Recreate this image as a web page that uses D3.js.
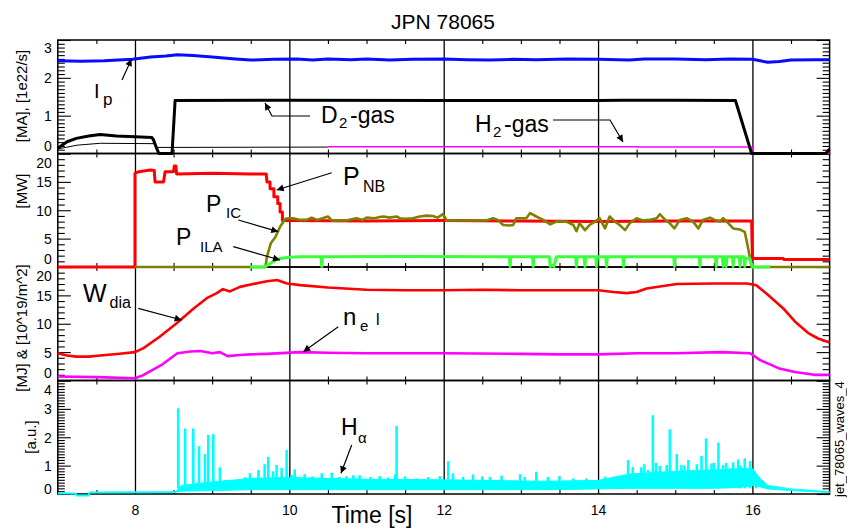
<!DOCTYPE html>
<html><head><meta charset="utf-8">
<script src="https://cdn.jsdelivr.net/npm/d3@7"></script>
<style>body{margin:0;background:#fff}svg{display:block;font-family:"Liberation Sans",Arial,Helvetica,sans-serif}</style>
</head><body><svg id="c" width="847" height="529"></svg>
<script>
// ---------- data ----------
const title = "JPN 78065";
const xTickVals = [8, 10, 12, 14, 16];
const xTickLabels = ["8", "10", "12", "14", "16"];
const ticksP1 = [0, 1, 2, 3];
const ticksP2 = [0, 5, 10, 15, 20];
const ticksP3 = [0, 5, 10, 15, 20];
const ticksP4 = [0, 1, 2, 3, 4];

// panel 1: plasma current [MA] and gas [1e22/s]
const ip = [[7.0,2.45],[7.3,2.44],[7.6,2.45],[7.97,2.49],[8.2,2.55],[8.4,2.58],[8.55,2.61],[8.75,2.59],[9.0,2.55],[9.3,2.5],[9.5,2.47],[9.8,2.49],[10.1,2.5],[10.3,2.47],[10.5,2.5],[10.8,2.48],[11.0,2.5],[11.3,2.47],[11.6,2.49],[12.0,2.5],[12.3,2.48],[12.6,2.47],[12.9,2.49],[13.2,2.48],[13.6,2.5],[14.0,2.49],[14.4,2.47],[14.6,2.5],[15.0,2.5],[15.4,2.48],[15.7,2.5],[16.0,2.49],[16.1,2.45],[16.2,2.41],[16.35,2.43],[16.5,2.47],[16.8,2.48],[17.0,2.48]];
const d2Gas = [[7.0,0.14],[7.12,0.31],[7.24,0.40],[7.4,0.46],[7.55,0.5],[7.76,0.46],[8.0,0.44],[8.22,0.42],[8.24,0.36],[8.28,0.14],[8.31,0.0],[8.48,0.0],[8.52,1.40],[10.0,1.41],[12.0,1.40],[14.0,1.40],[14.3,1.41],[15.0,1.41],[15.78,1.40],[15.99,0.0],[16.95,0.0],[17.0,0.12]];
const gasThin = [[7.0,0.12],[7.25,0.22],[7.55,0.27],[8.25,0.26],[8.27,0.16],[10.5,0.17]];
const h2Gas = [[10.5,0.18],[14.5,0.18],[14.51,0.17],[16.0,0.17],[16.01,0.01],[17.0,0.01]];

// panel 2: heating powers [MW]
const pNB = [[7.0,0],[8.0,0],[8.0,16.5],[8.05,16.8],[8.2,17.1],[8.25,17.0],[8.26,15.0],[8.37,15.0],[8.39,16.8],[8.5,16.8],[8.51,17.8],[8.53,17.8],[8.54,16.4],[9.0,16.5],[9.5,16.4],[9.70,16.4],[9.71,15.0],[9.75,15.0],[9.75,13.8],[9.80,13.8],[9.80,12.4],[9.85,12.4],[9.85,11.2],[9.88,11.2],[9.88,9.7],[9.91,9.7],[9.91,8.2],[10.0,8.2],[11.0,8.1],[12.0,8.2],[13.0,8.1],[14.0,8.0],[15.0,8.1],[15.99,8.1],[16.0,1.5],[16.4,1.5],[16.41,1.3],[17.0,1.3]];
const pIC = [[8.0,0],[9.69,0],[9.71,1.8],[9.76,4.2],[9.82,5.3],[9.88,7.1],[9.95,8.5],[10.0,8.6],[10.05,8.6],[10.14,8.3],[10.22,8.3],[10.29,8.7],[10.36,8.3],[10.5,8.9],[10.55,8.2],[10.74,8.2],[10.87,8.6],[10.95,8.3],[11.0,8.7],[11.1,8.6],[11.17,8.8],[11.22,8.9],[11.3,8.7],[11.39,8.9],[11.43,8.6],[11.5,8.5],[11.6,8.6],[11.69,8.9],[11.78,9.05],[11.86,9.0],[11.92,8.7],[11.99,9.3],[12.04,8.2],[12.3,8.2],[12.47,8.2],[12.55,8.2],[12.64,8.6],[12.7,8.3],[12.77,7.4],[12.85,7.3],[12.9,7.4],[12.94,8.6],[13.07,8.6],[13.12,9.5],[13.2,8.9],[13.29,8.3],[13.38,7.5],[13.46,8.0],[13.59,8.0],[13.68,7.4],[13.72,6.3],[13.76,7.7],[13.83,6.5],[13.89,7.4],[13.96,8.0],[14.02,8.6],[14.09,6.8],[14.15,8.9],[14.22,8.0],[14.28,7.4],[14.35,6.5],[14.41,7.7],[14.5,8.6],[14.58,8.2],[14.67,8.3],[14.76,8.6],[14.8,9.3],[14.87,8.3],[14.93,7.7],[14.99,6.8],[15.06,8.3],[15.15,8.6],[15.23,8.0],[15.3,6.8],[15.36,8.3],[15.45,8.7],[15.51,8.3],[15.58,8.0],[15.62,8.6],[15.69,7.7],[15.75,6.8],[15.84,6.6],[15.9,6.2],[15.94,3.6],[15.99,0],[17.0,0]];
const pILA = [[9.49,0],[9.68,0],[9.75,0.6],[9.82,1.2],[9.88,1.5],[10.0,1.7],[10.14,1.8],[10.41,1.8],[10.42,0.1],[10.43,1.8],[11.5,1.85],[12.85,1.8],[12.86,0.1],[12.87,1.8],[13.15,1.8],[13.16,0.1],[13.17,1.8],[13.37,1.8],[13.38,0.1],[13.41,0.3],[13.43,0.1],[13.46,1.8],[13.71,1.8],[13.72,0.1],[13.73,1.8],[13.82,1.8],[13.83,0.1],[13.84,1.8],[13.97,1.8],[13.98,0.1],[13.99,1.8],[14.10,1.8],[14.11,0.1],[14.12,1.8],[14.32,1.8],[14.33,0.1],[14.34,1.8],[14.98,1.8],[14.99,0.1],[15.0,1.8],[15.31,1.8],[15.32,0.1],[15.33,1.8],[15.52,1.8],[15.53,0.1],[15.54,1.8],[15.61,1.8],[15.62,0.1],[15.63,1.8],[15.66,0.1],[15.67,1.8],[15.74,1.8],[15.75,0.1],[15.76,1.8],[15.83,1.8],[15.84,0.1],[15.85,1.8],[15.89,1.8],[15.9,0.1],[15.91,1.5],[15.96,1.6],[16.0,0.0],[16.23,0.0]];

// panel 3: diamagnetic energy [MJ] and line-integrated density [10^19/m^2]
const wDia = [[7.0,4.8],[7.12,4.4],[7.24,4.2],[7.4,4.2],[7.55,4.4],[7.8,4.7],[8.0,5.0],[8.11,5.7],[8.32,7.7],[8.54,10.1],[8.76,12.7],[8.93,14.5],[9.06,15.4],[9.14,16.1],[9.23,15.7],[9.36,16.5],[9.53,17.0],[9.71,17.5],[9.84,17.7],[9.97,17.1],[10.14,16.8],[10.5,16.4],[11.0,16.0],[11.5,15.9],[12.0,15.9],[12.5,16.0],[13.0,15.9],[13.5,15.9],[14.0,15.9],[14.2,15.6],[14.37,15.4],[14.5,15.6],[14.63,16.2],[15.02,17.0],[15.5,17.1],[15.93,17.1],[16.05,16.8],[16.2,15.1],[16.4,12.7],[16.55,10.4],[16.73,8.3],[16.85,7.4],[17.0,6.7]];
const neL = [[7.0,0.7],[7.5,0.6],[8.0,0.4],[8.1,0.9],[8.34,2.7],[8.55,4.8],[8.72,5.1],[8.85,5.2],[9.0,4.8],[9.1,5.0],[9.2,4.3],[9.36,4.5],[9.5,4.6],[9.71,4.7],[10.14,5.0],[10.5,4.9],[11.0,4.8],[12.0,4.8],[13.0,4.7],[13.5,4.6],[14.0,4.6],[14.5,4.8],[15.0,4.8],[15.6,5.0],[15.97,4.8],[16.1,3.6],[16.35,2.1],[16.55,1.5],[16.8,1.0],[17.0,1.0]];

// panel 4: H-alpha [a.u.]
const haBase = [[7.0,0.02],[7.23,0.02],[7.24,-0.05],[7.4,-0.05],[7.41,0.05],[8.0,0.06],[8.5,0.07],[8.54,0.08]];
const haBand = [[8.54,0.07,0.12],[8.6,0.1,0.3],[9.0,0.12,0.42],[9.5,0.15,0.55],[10.0,0.15,0.58],[11.0,0.15,0.52],[12.0,0.15,0.5],[12.5,0.15,0.48],[13.3,0.15,0.45],[14.0,0.18,0.48],[14.4,0.2,0.7],[15.0,0.2,0.8],[15.5,0.2,0.85],[15.9,0.25,0.9],[16.0,0.3,0.9],[16.1,0.25,0.55],[16.2,0.18,0.3],[16.5,0.12,0.18],[17.0,0.05,0.08]];
const haSpikes = [[8.56,3.02],[8.65,2.31],[8.755,2.31],[8.83,1.69],[8.907,1.41],[8.95,2.08],[9.015,2.11],[9.10,0.94],[9.166,0.49],[9.295,0.47],[9.425,0.59],[9.49,0.73],[9.60,0.85],[9.68,1.05],[9.727,1.31],[9.79,0.8],[9.835,1.03],[9.90,0.91],[9.965,1.55],[10.03,0.67],[10.07,0.87],[10.2,0.7],[10.3,0.62],[10.42,0.73],[10.55,0.75],[10.65,0.6],[10.74,0.63],[10.83,0.66],[10.91,0.66],[11.05,0.6],[11.17,0.63],[11.28,0.58],[11.37,0.7],[11.39,2.40],[11.5,0.62],[11.65,0.55],[11.8,0.6],[11.95,0.63],[12.06,1.16],[12.12,0.73],[12.25,0.6],[12.38,0.69],[12.5,0.62],[12.6,0.6],[12.75,0.65],[12.99,0.7],[13.05,0.6],[13.2,0.78],[13.35,0.6],[13.5,0.63],[13.68,0.55],[13.85,0.55],[14.09,0.61],[14.2,0.6],[14.28,0.58],[14.39,1.2],[14.45,0.95],[14.455,0.73],[14.56,0.94],[14.6,1.05],[14.65,0.85],[14.71,2.78],[14.75,1.1],[14.8,0.99],[14.89,1.02],[14.93,2.28],[15.02,1.41],[15.08,1.02],[15.12,1.0],[15.17,1.2],[15.23,0.85],[15.28,1.05],[15.34,1.34],[15.4,1.96],[15.47,1.08],[15.5,1.1],[15.56,1.81],[15.62,1.02],[15.66,1.1],[15.71,0.9],[15.75,1.12],[15.815,1.22],[15.85,1.0],[15.9,1.26],[15.97,1.16],[16.05,0.67]];

// ---------- layout ----------
const svg = d3.select("#c");
const x = d3.scaleLinear().domain([7, 17]).range([57.8, 829.6]);
const panels = [
  {y: d3.scaleLinear().domain([0,3]).range([153.5,40]), ticks: ticksP1, minor: d3.range(0,3.001,0.1)},
  {y: d3.scaleLinear().domain([0,20]).range([267,153.5]), ticks: ticksP2, minor: d3.range(0,20.01,1)},
  {y: d3.scaleLinear().domain([0,20]).range([380.5,267]), ticks: ticksP3, minor: d3.range(0,20.01,1)},
  {y: d3.scaleLinear().domain([0,4]).range([494,380.5]), ticks: ticksP4, minor: d3.range(0,4.001,0.1)}
];
const xMinor = d3.range(7.5, 17, 0.5).filter(v => !xTickVals.includes(v));
const X0 = x.range()[0], X1 = x.range()[1];

const defs = svg.append("defs");
defs.append("marker").attr("id","ah").attr("viewBox","0 0 10 10").attr("refX",10).attr("refY",5)
  .attr("markerWidth",9).attr("markerHeight",7).attr("markerUnits","userSpaceOnUse").attr("orient","auto")
  .append("path").attr("d","M0,0L10,5L0,10Z").attr("fill","#000");

function styleAxis(g){ g.select(".domain").remove(); g.selectAll("line").attr("stroke","#000").attr("stroke-width",1.1); }

panels.forEach((p, i) => {
  const top = p.y.range()[1], bot = p.y.range()[0], h = bot - top;
  const g = svg.append("g");
  g.append("g").attr("transform",`translate(0,${bot})`)
    .call(d3.axisBottom(x).tickValues(xTickVals).tickSize(-h).tickSizeOuter(0).tickFormat(""))
    .call(styleAxis).selectAll("line").attr("stroke-width",1.3);
  g.append("g").attr("transform",`translate(0,${bot})`)
    .call(d3.axisBottom(x).tickValues(xMinor).tickSize(-4).tickSizeOuter(0).tickFormat("")).call(styleAxis);
  g.append("g").attr("transform",`translate(0,${top})`)
    .call(d3.axisTop(x).tickValues(xMinor).tickSize(-4).tickSizeOuter(0).tickFormat("")).call(styleAxis);
  const minorOnly = p.minor.filter(v => !p.ticks.some(t => Math.abs(t - v) < 1e-6));
  g.append("g").attr("transform",`translate(${X0},0)`)
    .call(d3.axisLeft(p.y).tickValues(minorOnly).tickSize(-7).tickSizeOuter(0).tickFormat("")).call(styleAxis);
  const la = g.append("g").attr("transform",`translate(${X0},0)`)
    .call(d3.axisLeft(p.y).tickValues(p.ticks).tickSize(-13).tickSizeOuter(0).tickPadding(6).tickFormat(d3.format("d")))
    .call(styleAxis);
  const last = p.ticks[p.ticks.length-1], first = p.ticks[0];
  la.selectAll("text").attr("font-size",14).attr("font-family","Liberation Sans, Arial, sans-serif").attr("fill","#000")
    .attr("dy", d => d === last ? (i === 0 ? "12px" : "13.5px") : (d === first ? (i === 3 ? "-0.7px" : "-3.5px") : "0.35em"));
  g.append("g").attr("transform",`translate(${X1},0)`)
    .call(d3.axisRight(p.y).tickValues(minorOnly).tickSize(-7).tickSizeOuter(0).tickFormat("")).call(styleAxis);
  g.append("g").attr("transform",`translate(${X1},0)`)
    .call(d3.axisRight(p.y).tickValues(p.ticks).tickSize(-13).tickSizeOuter(0).tickFormat("")).call(styleAxis);
  g.append("rect").attr("x",X0).attr("y",top).attr("width",X1-X0).attr("height",h)
    .attr("fill","none").attr("stroke","#000").attr("stroke-width",1.5);
});

svg.append("g").attr("transform",`translate(0,${panels[3].y.range()[0]})`)
  .call(d3.axisBottom(x).tickValues(xTickVals).tickSize(0).tickPadding(11).tickFormat((d,i)=>xTickLabels[i]))
  .call(g => g.select(".domain").remove())
  .selectAll("text").attr("font-size",14).attr("font-family","Liberation Sans, Arial, sans-serif").attr("fill","#000");

// ---------- series ----------
function drawLine(data, p, color, w){
  svg.append("path").datum(data).attr("fill","none").attr("stroke",color).attr("stroke-width",w)
    .attr("stroke-linejoin","round")
    .attr("d", d3.line().x(d=>x(d[0])).y(d=>p.y(d[1])));
}
const P = panels;
drawLine(gasThin, P[0], "#000", 1);
drawLine(h2Gas, P[0], "#ff00ff", 1.6);
drawLine(d2Gas, P[0], "#000", 3);
drawLine(ip, P[0], "#0a0aff", 3);

drawLine(pNB, P[1], "#ff0000", 3);
drawLine(pIC, P[1], "#808000", 2.6);
drawLine(pILA, P[1], "#3cff3c", 3);

drawLine(wDia, P[2], "#ff0000", 2.6);
drawLine(neL, P[2], "#ff00ff", 2.6);

svg.append("path").datum(haBand).attr("fill","#00ffff").attr("stroke","#00ffff").attr("stroke-width",1)
  .attr("d", d3.area().x(d=>x(d[0])).y0(d=>P[3].y(d[1])).y1(d=>P[3].y(d[2])));
drawLine(haBase, P[3], "#00ffff", 2);
svg.append("g").selectAll("line").data(haSpikes).join("line")
  .attr("x1",d=>x(d[0])).attr("x2",d=>x(d[0])).attr("y1",P[3].y(0.2)).attr("y2",d=>P[3].y(d[1]))
  .attr("stroke","#00ffff").attr("stroke-width",2.6);

// ---------- texts ----------
const F = "Liberation Sans, Arial, sans-serif";
svg.append("text").attr("x",443).attr("y",29).attr("text-anchor","middle").attr("font-size",21).attr("font-family",F).text(title);
svg.append("text").attr("x",372).attr("y",523).attr("text-anchor","middle").attr("font-size",23).attr("font-family",F).text("Time [s]");

function vlabel(cx, cy, txt, fs){
  svg.append("text").attr("transform",`translate(${cx},${cy}) rotate(-90)`).attr("text-anchor","middle")
    .attr("dominant-baseline","central").attr("font-size",fs).attr("font-family",F).text(txt);
}
vlabel(21, 96, "[MA], [1e22/s]", 15);
vlabel(21, 191, "[MW]", 15);
vlabel(21, 328, "[MJ] & [10^19/m^2]", 15);
vlabel(30, 437, "[a.u.]", 15);
svg.append("text").attr("transform","translate(844,497) rotate(-90)").attr("font-size",13).attr("font-family",F).text("jet_78065_waves_4");

function label(parts){
  const t = svg.append("text").attr("font-family",F).attr("fill","#000");
  parts.forEach(pt => t.append("tspan").attr("x",pt[0]).attr("y",pt[1]).attr("font-size",pt[2]).text(pt[3]));
}
function arrow(pts, head=true){
  const pa = svg.append("path").attr("d", d3.line()(pts)).attr("fill","none").attr("stroke","#000").attr("stroke-width",1.2);
  if (head) pa.attr("marker-end","url(#ah)");
}
label([[94,98,20,"I"],[103,104.5,17,"p"]]);
arrow([[122,80],[131.5,59]]);
label([[321,123,23,"D"],[339,128,15,"2"],[350,123,23,"-gas"]]);
arrow([[310,116],[272,116],[265,103]]);
label([[475,131.5,23,"H"],[493,136.5,15,"2"],[504,131.5,23,"-gas"]]);
arrow([[553,120],[610,120],[623,142]]);
label([[343,185,25,"P"],[363,191.7,16,"NB"]]);
arrow([[331.7,172.7],[276.7,190]]);
label([[206,211.7,23,"P"],[226,217.5,15,"IC"]]);
arrow([[238.3,220],[278.3,231.7]]);
label([[176,245,23,"P"],[200,251.7,15,"ILA"]]);
arrow([[233.3,246.7],[280,260]]);
label([[83,302,25,"W"],[109.5,308,16,"dia"]]);
arrow([[138.3,308.3],[181.7,320]]);
label([[343,325,24,"n"],[360,330.5,15,"e"],[376,325,16,"l"]]);
arrow([[338.3,326.7],[303.3,351.7]]);
label([[341,435,23,"H"],[358,443,15,"α"]]);
arrow([[351.7,445],[341,473.3]]);
</script></body></html>
